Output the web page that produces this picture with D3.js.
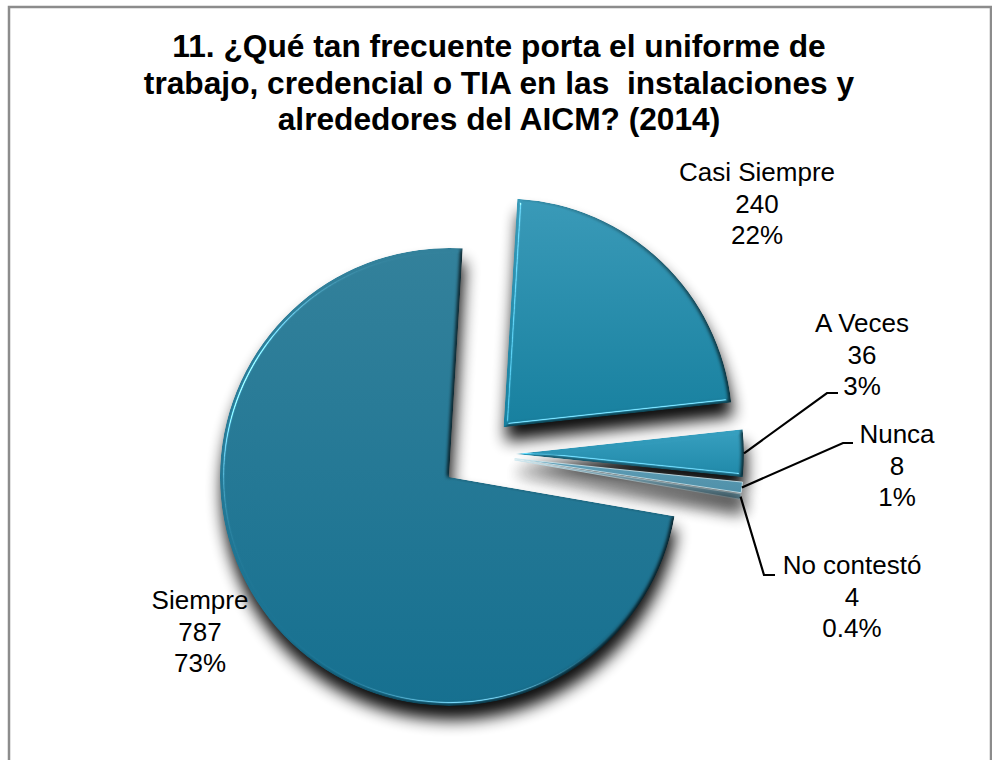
<!DOCTYPE html>
<html>
<head>
<meta charset="utf-8">
<script src="https://cdn.jsdelivr.net/npm/d3@7"></script>
<style>
body { margin:0; background:#fff; }
text { font-family:"Liberation Sans", Arial, sans-serif; fill:#000; white-space:pre; }
</style>
</head>
<body>
<div id="chart"></div>
<script>
var categories = ["Siempre","Casi Siempre","A Veces","Nunca","No contestó"];
var counts = [787,240,36,8,4];
var percents = ["73%","22%","3%","1%","0.4%"];
var titleLines = [
    "11. ¿Qué tan frecuente porta el uniforme de",
    "trabajo, credencial o TIA en las  instalaciones y",
    "alrededores del AICM? (2014)"
];

var width = 992, height = 760;
var radius = 229, explode = 37;
var cx = 478, cy = 454;
var startDeg = 99.9;

// top and bottom colour of each slice
var fills = [["#33819b","#167090"],["#3a9ab8","#17809f"],["#38a0c0","#1f88a8"],["#5f9db5","#4f90a9"],["#8ab6c7","#76a8bb"]];
// label anchors (centre x, first baseline) and leader knee/end, same order as categories
var labelPos = [[200,609],[757,181],[862,332],[897,443],[852,574]];
var leaders = [null,null,[[827,393],[838,393]],[[843,443],[853,443]],[[764,575],[775,575]]];
var drawOrder = [1,2,4,3,0];

var svg = d3.select("#chart").append("svg")
    .attr("width",width)
    .attr("height",height);

var defs = svg.append("defs");

function addShadow(f,face) {
    f.append("feGaussianBlur").attr("in","SourceAlpha").attr("stdDeviation",8).attr("result","sb");
    f.append("feOffset").attr("in","sb").attr("dx",2).attr("dy",14).attr("result","so");
    f.append("feComponentTransfer").attr("in","so").attr("result","shadow")
        .append("feFuncA").attr("type","linear").attr("slope",0.95);
    var merge = f.append("feMerge");
    merge.append("feMergeNode").attr("in","shadow");
    merge.append("feMergeNode").attr("in",face);
}

var filter = defs.append("filter")
    .attr("id","bevel")
    .attr("filterUnits","userSpaceOnUse")
    .attr("x",0).attr("y",0).attr("width",width).attr("height",height)
    .attr("color-interpolation-filters","sRGB");
filter.append("feGaussianBlur").attr("in","SourceAlpha").attr("stdDeviation",2).attr("result","bump");
filter.append("feDiffuseLighting").attr("in","bump").attr("surfaceScale",2.4).attr("diffuseConstant",1.22)
    .attr("lighting-color","#fff").attr("result","diff")
    .append("feDistantLight").attr("azimuth",205).attr("elevation",55);
filter.append("feSpecularLighting").attr("in","bump").attr("surfaceScale",4).attr("specularConstant",0.7)
    .attr("specularExponent",70).attr("lighting-color","#bdf0ff").attr("result","spec1")
    .append("feDistantLight").attr("azimuth",205).attr("elevation",40);
filter.append("feSpecularLighting").attr("in","bump").attr("surfaceScale",4).attr("specularConstant",0.5)
    .attr("specularExponent",70).attr("lighting-color","#cdf2ff").attr("result","spec2")
    .append("feDistantLight").attr("azimuth",85).attr("elevation",35);
filter.append("feComposite").attr("in","SourceGraphic").attr("in2","diff")
    .attr("operator","arithmetic").attr("k1",1).attr("k2",0).attr("k3",0).attr("k4",0).attr("result","lit");
filter.append("feComposite").attr("in","lit").attr("in2","spec1")
    .attr("operator","arithmetic").attr("k1",0).attr("k2",1).attr("k3",1).attr("k4",0).attr("result","lit2");
filter.append("feComposite").attr("in","lit2").attr("in2","spec2")
    .attr("operator","arithmetic").attr("k1",0).attr("k2",1).attr("k3",1).attr("k4",0).attr("result","lit3");
filter.append("feComposite").attr("in","lit3").attr("in2","SourceAlpha").attr("operator","in").attr("result","face");
addShadow(filter,"face");

// the two thin slivers are too narrow for the bevel, shadow only
var thin = defs.append("filter")
    .attr("id","thin")
    .attr("filterUnits","userSpaceOnUse")
    .attr("x",0).attr("y",0).attr("width",width).attr("height",height)
    .attr("color-interpolation-filters","sRGB");
addShadow(thin,"SourceGraphic");

fills.forEach(function (f,i) {
    var g = defs.append("linearGradient")
        .attr("id","fill"+i)
        .attr("x1",0).attr("y1",0).attr("x2",0).attr("y2",1);
    g.append("stop").attr("offset","0%").attr("stop-color",f[0]);
    g.append("stop").attr("offset","100%").attr("stop-color",f[1]);
});

svg.append("rect")
    .attr("x",9).attr("y",7)
    .attr("width",982).attr("height",800)
    .attr("fill","#fff")
    .attr("stroke","#8c8c8c")
    .attr("stroke-width",2.5);

svg.selectAll(".title")
    .data(titleLines)
    .enter()
    .append("text")
    .attr("class","title")
    .attr("x",499)
    .attr("y",function (d,i) { return 57+i*36.5; })
    .attr("text-anchor","middle")
    .style("font-size","31.7px")
    .style("font-weight","bold")
    .text(function (d) { return d; });

var pie = d3.pie()
    .sort(null)
    .startAngle(startDeg*Math.PI/180)
    .endAngle((startDeg+360)*Math.PI/180);
var arcs = pie(counts);

var arc = d3.arc().innerRadius(0).outerRadius(radius);

function offset(d) {
    var mid = (d.startAngle+d.endAngle)/2;
    return [cx+explode*Math.sin(mid), cy-explode*Math.cos(mid)];
}

var pieGroup = svg.append("g");
drawOrder.forEach(function (i) {
    var o = offset(arcs[i]);
    var isThin = i>=3;
    pieGroup.append("g")
        .attr("filter",isThin ? "url(#thin)" : "url(#bevel)")
        .append("path")
        .attr("class","slice")
        .attr("d",arc(arcs[i]))
        .attr("transform","translate("+o[0]+","+o[1]+")")
        .attr("fill","url(#fill"+i+")")
        .attr("stroke",isThin ? "#cfe8f0" : "none")
        .attr("stroke-width",isThin ? 0.8 : 0);
});

var line = d3.line();
arcs.forEach(function (d,i) {
    if (!leaders[i]) return;
    var o = offset(d), mid = (d.startAngle+d.endAngle)/2;
    var tip = [o[0]+radius*Math.sin(mid), o[1]-radius*Math.cos(mid)];
    svg.append("path")
        .attr("d",line([tip].concat(leaders[i])))
        .attr("fill","none")
        .attr("stroke","#000")
        .attr("stroke-width",2.2);
});

categories.forEach(function (c,i) {
    var rows = [c,counts[i],percents[i]];
    svg.append("g").selectAll("text")
        .data(rows)
        .enter()
        .append("text")
        .attr("x",labelPos[i][0])
        .attr("y",function (d,j) { return labelPos[i][1]+j*31.5; })
        .attr("text-anchor","middle")
        .style("font-size","26px")
        .text(function (d) { return d; });
});
</script>
</body>
</html>
